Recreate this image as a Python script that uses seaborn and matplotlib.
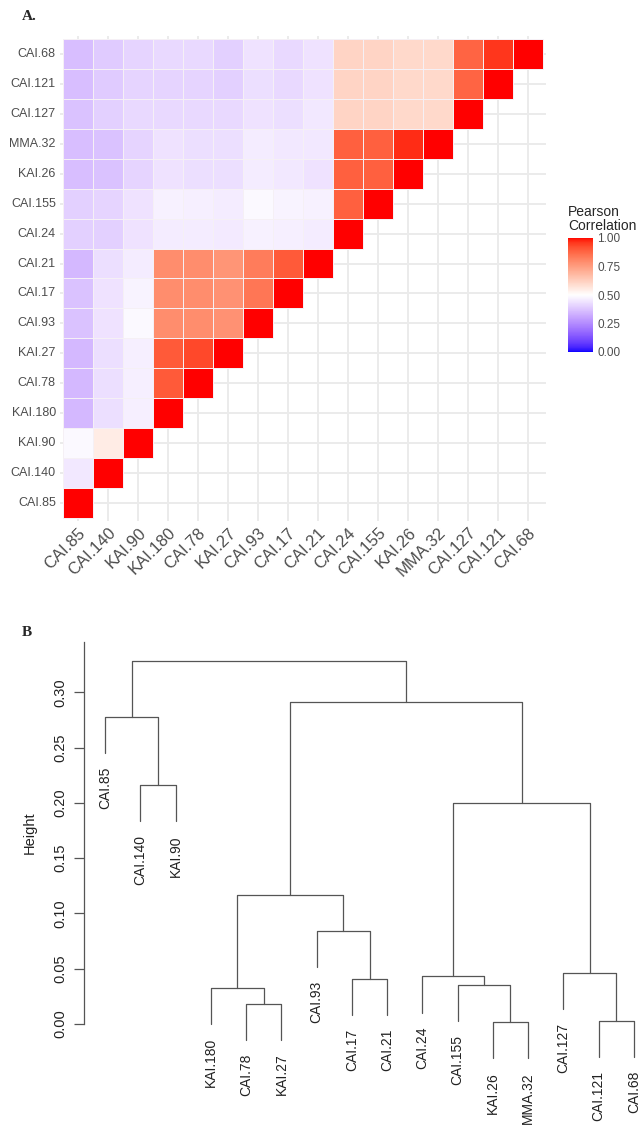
import numpy as np
import pandas as pd
import matplotlib
matplotlib.use("Agg")
import matplotlib.pyplot as plt
import seaborn as sns
from matplotlib.colors import ListedColormap

# --- data -------------------------------------------------------------
samples = ["CAI.85", "CAI.140", "KAI.90", "KAI.180", "CAI.78", "KAI.27",
           "CAI.93", "CAI.17", "CAI.21", "CAI.24", "CAI.155", "KAI.26",
           "MMA.32", "CAI.127", "CAI.121", "CAI.68"]

# lower triangle of the Pearson matrix, row i holds columns 0..i-1
corr_rows = [
    [],
    [0.45],
    [0.485, 0.55],
    [0.35, 0.43, 0.465],
    [0.35, 0.43, 0.465, 0.90],
    [0.35, 0.43, 0.465, 0.90, 0.93],
    [0.37, 0.44, 0.485, 0.79, 0.79, 0.78],
    [0.37, 0.44, 0.475, 0.79, 0.79, 0.78, 0.84],
    [0.35, 0.43, 0.46, 0.79, 0.79, 0.77, 0.83, 0.90],
    [0.40, 0.40, 0.44, 0.46, 0.46, 0.455, 0.47, 0.465, 0.46],
    [0.40, 0.41, 0.44, 0.47, 0.465, 0.46, 0.485, 0.475, 0.47, 0.89],
    [0.36, 0.37, 0.41, 0.44, 0.43, 0.43, 0.46, 0.45, 0.44, 0.89, 0.89],
    [0.36, 0.37, 0.41, 0.44, 0.43, 0.43, 0.46, 0.45, 0.45, 0.89, 0.89, 0.97],
    [0.37, 0.40, 0.42, 0.42, 0.42, 0.42, 0.44, 0.43, 0.45, 0.61, 0.61, 0.60, 0.60],
    [0.36, 0.39, 0.41, 0.41, 0.41, 0.40, 0.43, 0.42, 0.44, 0.61, 0.61, 0.60, 0.60, 0.88],
    [0.36, 0.39, 0.41, 0.42, 0.42, 0.40, 0.44, 0.42, 0.44, 0.61, 0.61, 0.60, 0.60, 0.88, 0.96],
]
cbar_ticks = [0.0, 0.25, 0.5, 0.75, 1.0]

# hclust-style merges: negative = leaf (1-based in samples), positive = earlier merge
merge_a = [-12, -15, -5, -4, -11, -8, -10, -14, -7, 4, 7, -2, -1, 10, 13]
merge_b = [-13, -16, -6, 3, 1, -9, 5, 2, 6, 9, 8, -3, 12, 11, 14]
merge_h = [0.0018, 0.003, 0.0185, 0.033, 0.0355, 0.0406, 0.043, 0.046,
           0.084, 0.1166, 0.200, 0.216, 0.278, 0.291, 0.328]
height_ticks = [0.0, 0.05, 0.10, 0.15, 0.20, 0.25, 0.30]


# --- ggplot-like gradient2 (Lab interpolation) ------------------------
WHITE_PT = np.array([0.95047, 1.0, 1.08883])
M_RGB2XYZ = np.array([[0.4124, 0.3576, 0.1805],
                      [0.2126, 0.7152, 0.0722],
                      [0.0193, 0.1192, 0.9505]])


def rgb_to_lab(rgb):
    c = np.asarray(rgb, float)
    c = np.where(c <= 0.04045, c / 12.92, ((c + 0.055) / 1.055) ** 2.4)
    xyz = M_RGB2XYZ @ c / WHITE_PT
    f = np.where(xyz > 0.008856, np.cbrt(xyz), 7.787 * xyz + 16 / 116)
    return np.array([116 * f[1] - 16, 500 * (f[0] - f[1]), 200 * (f[1] - f[2])])


def lab_to_rgb(lab):
    fy = (lab[0] + 16) / 116
    f = np.array([fy + lab[1] / 500, fy, fy - lab[2] / 200])
    xyz = np.where(f ** 3 > 0.008856, f ** 3, (f - 16 / 116) / 7.787) * WHITE_PT
    c = np.clip(np.linalg.solve(M_RGB2XYZ, xyz), 0, 1)
    return np.where(c <= 0.0031308, 12.92 * c, 1.055 * c ** (1 / 2.4) - 0.055).clip(0, 1)


lab_lo, lab_mid, lab_hi = rgb_to_lab([0, 0, 1]), rgb_to_lab([1, 1, 1]), rgb_to_lab([1, 0, 0])
cols = []
for v in np.linspace(0, 1, 256):
    if v < 0.5:
        lab = lab_lo + (lab_mid - lab_lo) * (v / 0.5)
    else:
        lab = lab_mid + (lab_hi - lab_mid) * ((v - 0.5) / 0.5)
    cols.append(lab_to_rgb(lab))
cmap = ListedColormap(cols)

# --- figure -----------------------------------------------------------
sns.set_style("white")
plt.rcParams["font.family"] = ["Liberation Sans", "DejaVu Sans"]

W, H = 640, 1130
fig = plt.figure(figsize=(6.4, 11.3), dpi=100)


def px_axes(x0, y0, x1, y1):
    return fig.add_axes([x0 / W, 1 - y1 / H, (x1 - x0) / W, (y1 - y0) / H])


# panel A: lower-triangle heatmap
n = len(samples)
mat = np.full((n, n), np.nan)
for i, row in enumerate(corr_rows):
    mat[i, :i] = row
    mat[i, i] = 1.0
df = pd.DataFrame(mat, index=samples, columns=samples).iloc[::-1]

ax = px_axes(60, 36, 546, 521)
cax = px_axes(568, 238, 593, 352)
sns.heatmap(df, ax=ax, cmap=cmap, vmin=0, vmax=1, linewidths=0.6,
            linecolor="#F4F0F4", cbar_ax=cax, xticklabels=True, yticklabels=True)
# no borders on the empty (upper) cells, so the grid shows through
mesh = ax.collections[0]
empty = np.isnan(df.values).ravel()
mesh.set_edgecolor([(1, 1, 1, 0) if e else (0.96, 0.94, 0.96, 1) for e in empty])
ax.set_xlim(-0.1, n + 0.1)
ax.set_ylim(n + 0.1, -0.1)
ax.set_axisbelow(True)
ax.grid(True, color="#EBEBEB", lw=1.4)
ax.set_xlabel("")
ax.set_ylabel("")
ax.tick_params(length=0, labelcolor="#4D4D4D", pad=3)
ax.tick_params(axis="y", labelsize=9)
ax.tick_params(axis="x", labelsize=12)
plt.setp(ax.get_xticklabels(), rotation=45, ha="right", rotation_mode="anchor")
plt.setp(ax.get_yticklabels(), rotation=0)

cbar = mesh.colorbar
cbar.set_ticks(cbar_ticks)
cbar.set_ticklabels([f"{t:.2f}" for t in cbar_ticks])
cbar.outline.set_visible(False)
cax.tick_params(axis="y", direction="in", length=5, width=0.8, color="white",
                labelsize=8.5, labelcolor="#4D4D4D", pad=3, left=True, right=True)
fig.text(568 / W, 1 - 233 / H, "Pearson\nCorrelation", ha="left", va="bottom",
         fontsize=10, linespacing=1.0)

fig.text(22 / W, 1 - 17 / H, "A.", family="Liberation Serif", weight="bold",
         fontsize=11, va="center")

# panel B: dendrogram
axd = px_axes(84, 642, 655, 1024)
axd.set_xlim(0.4, n + 0.6)
axd.set_ylim(0, 0.3454)
hang = 0.1 * (max(merge_h) - min(merge_h))
node_x, node_y = {}, {}
line_kw = dict(color="#555555", lw=0.9, clip_on=False)
for k, (a, b, h) in enumerate(zip(merge_a, merge_b, merge_h), start=1):
    ends = []
    for c in (a, b):
        if c < 0:
            x, y = -c, h - hang
            axd.annotate(samples[-c - 1], (x, y), xytext=(0, -10), textcoords="offset points",
                         rotation=90, ha="center", va="top", fontsize=10,
                         color="#222222", annotation_clip=False)
        else:
            x, y = node_x[c], node_y[c]
        ends.append((x, y))
    (xa, ya), (xb, yb) = ends
    axd.plot([xa, xa, xb, xb], [ya, h, h, yb], **line_kw)
    node_x[k], node_y[k] = (xa + xb) / 2, h

for s in ("top", "right", "bottom"):
    axd.spines[s].set_visible(False)
axd.spines["left"].set_color("#555555")
axd.spines["left"].set_linewidth(0.9)
axd.set_xticks([])
axd.set_yticks(height_ticks)
axd.set_yticklabels([f"{t:.2f}" for t in height_ticks], rotation=90, va="center",
                    fontsize=10.5, color="#222222")
axd.tick_params(axis="y", left=True, length=7, width=0.9, color="#555555", pad=5)
axd.set_ylabel("Height", fontsize=10.5, color="#222222", labelpad=12)
fig.text(22 / W, 1 - 632 / H, "B", family="Liberation Serif", weight="bold",
         fontsize=11, va="center")

fig.savefig("out.png", dpi=100)
